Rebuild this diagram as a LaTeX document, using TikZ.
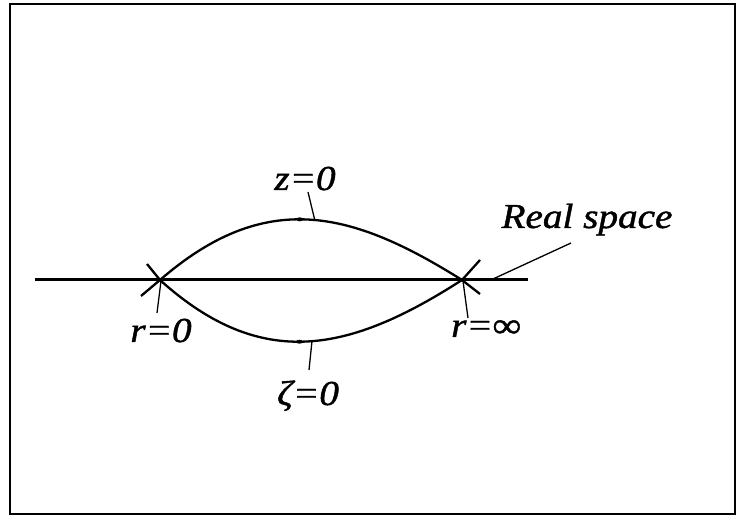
\documentclass[tikz,border=0pt]{standalone}
\usepackage{fontspec}
\setmainfont{Liberation Serif}
\newfontfamily\lblfont{Liberation Serif Italic}[FakeStretch=1.12,FakeBold=1.2]
\usetikzlibrary{decorations.markings,arrows.meta}
\begin{document}
\begin{tikzpicture}[x=1pt,y=-1pt,
  frame/.style={line width=2pt},
  axis/.style={line width=3pt},
  arc/.style={line width=2.3pt},
  leader/.style={line width=1.3pt},
  lab/.style={inner sep=0pt,anchor=base,font=\fontsize{35}{40}\lblfont},
  mid/.style={postaction={decorate},decoration={markings,mark=at position 0.47 with {\fill (0,0) ellipse (3.5pt and 2pt);}}}]
\useasboundingbox (0,0) rectangle (737,518);
\draw[frame] (10,4) rectangle (735,514);
% key points
\coordinate (A) at (160,280);
\coordinate (B) at (462,280);
\coordinate (L0) at (35,280);
\coordinate (L1) at (528,280);
\coordinate (Aul) at (147,264);
\coordinate (Adl) at (141,296);
\coordinate (Bur) at (480,260);
\coordinate (Bdr) at (480,294);
% axis
\draw[axis] (L0) -- (L1);
% arcs
\draw[arc,mid] (A) .. controls (266,188) and (352,211) .. (B);
\draw[arc,mid] (A) .. controls (262,372) and (350,352) .. (B);
% crosses
\draw[arc] (A) -- (Aul);
\draw[arc] (A) -- (Adl);
\draw[arc] (B) -- (Bur);
\draw[arc] (B) -- (Bdr);
% labels
\node[lab] (z) at (305,190) {z=0};
\node[lab] (zeta) at (308,405) {ζ=0};
\node[lab] (r0) at (161,342) {r=0};
\node[lab] (rinf) at (486,337) {r=∞};
\node[lab] (real) at (587,228) {Real space};
% leader ends
\coordinate (zt) at (315,221);
\coordinate (zh) at (308,192);
\coordinate (ct) at (312,341);
\coordinate (ch) at (309,370);
\coordinate (r0t) at (161,281);
\coordinate (r0h) at (157,313);
\coordinate (rit) at (463,281);
\coordinate (rih) at (468,318);
\coordinate (rst) at (493,279);
\coordinate (rsh) at (571,243);
\draw[leader] (zt) -- (zh);
\draw[leader] (ct) -- (ch);
\draw[leader] (r0t) -- (r0h);
\draw[leader] (rit) -- (rih);
\draw[leader] (rst) -- (rsh);
\end{tikzpicture}
\end{document}
